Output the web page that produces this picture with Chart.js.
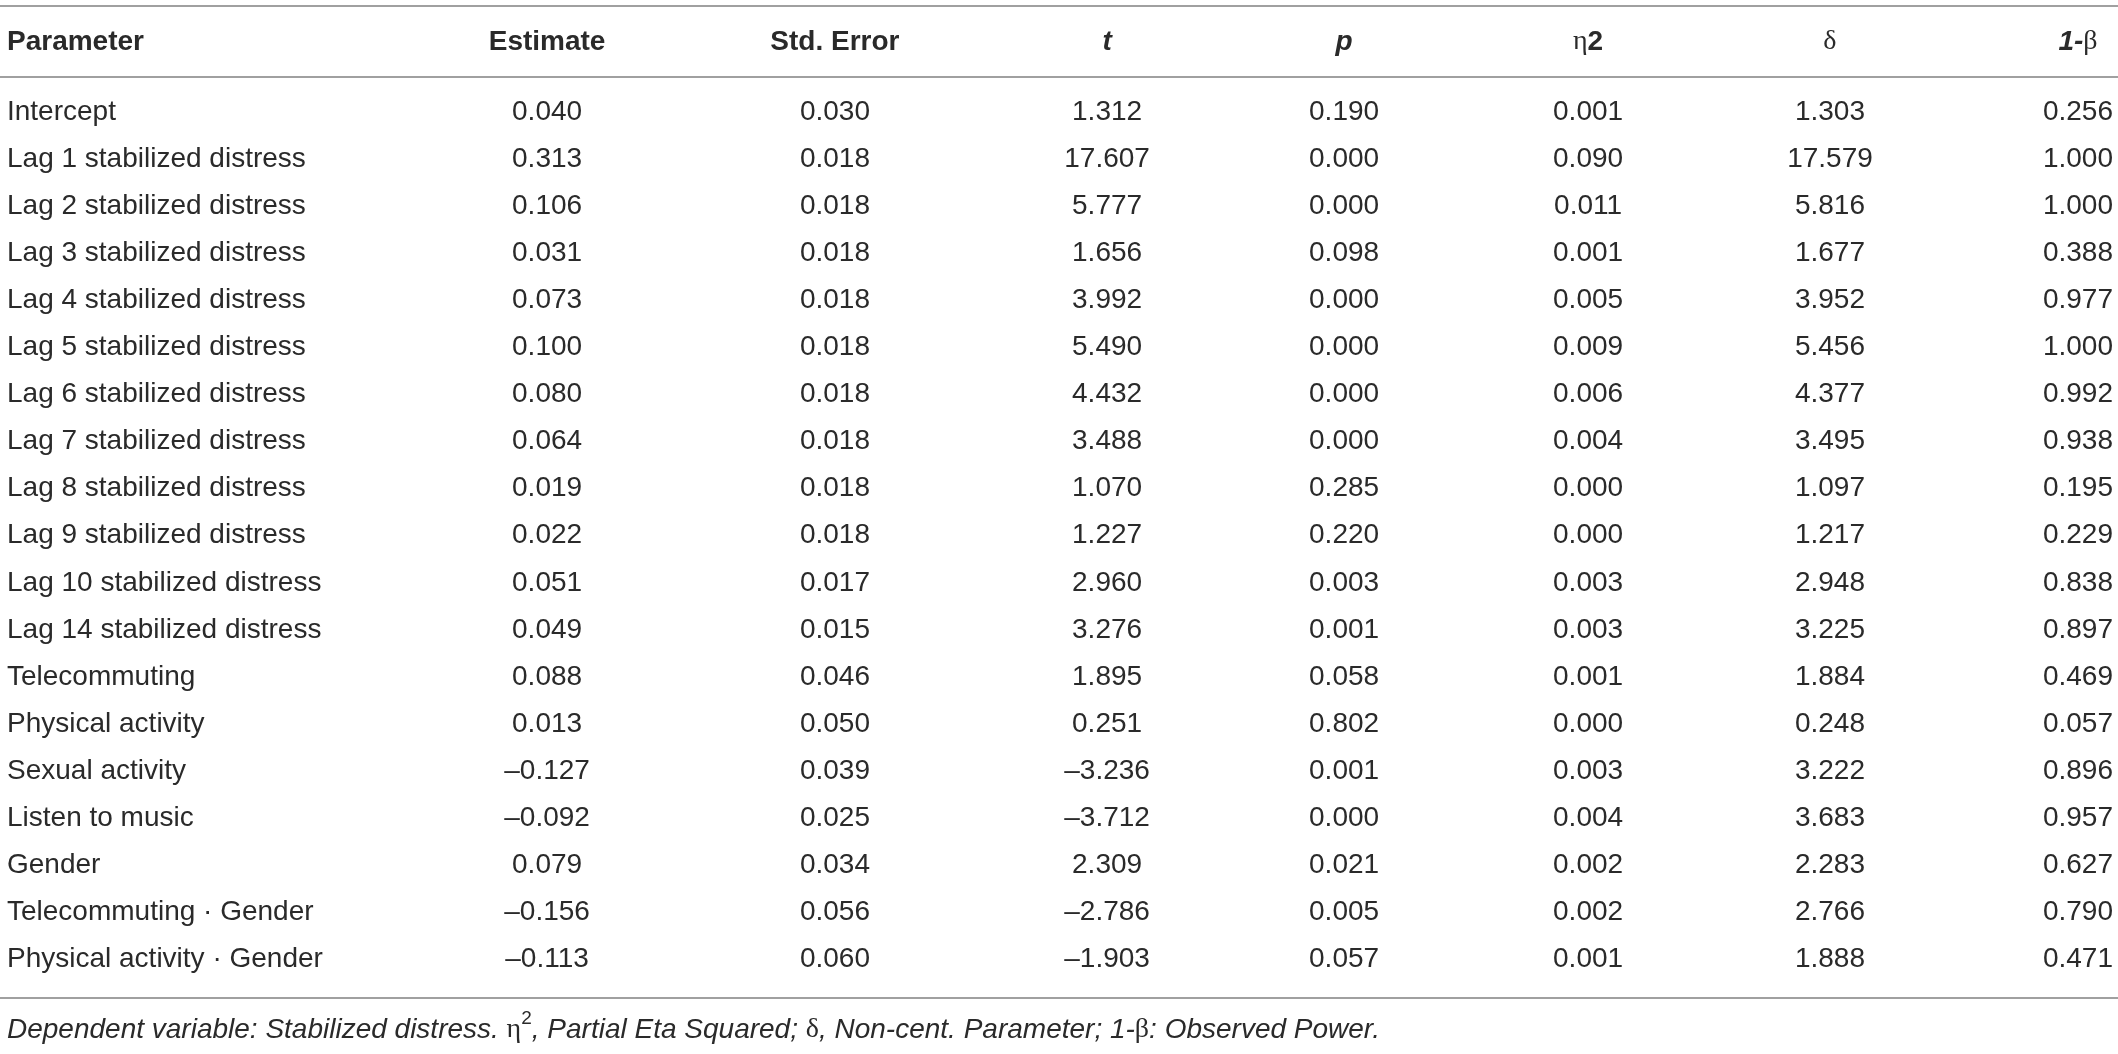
<!DOCTYPE html>
<html>
<head>
<meta charset="utf-8">
<script src="https://cdn.jsdelivr.net/npm/chart.js@4.4.1/dist/chart.umd.min.js"></script>
<style>
  html, body { margin: 0; padding: 0; background: #fff; }
  #wrap { width: 2118px; height: 1054px; position: relative; }
</style>
</head>
<body>
<div id="wrap"><canvas id="table"></canvas></div>
<script>
// table content
const PARAMS = [
  "Intercept",
  "Lag 1 stabilized distress",
  "Lag 2 stabilized distress",
  "Lag 3 stabilized distress",
  "Lag 4 stabilized distress",
  "Lag 5 stabilized distress",
  "Lag 6 stabilized distress",
  "Lag 7 stabilized distress",
  "Lag 8 stabilized distress",
  "Lag 9 stabilized distress",
  "Lag 10 stabilized distress",
  "Lag 14 stabilized distress",
  "Telecommuting",
  "Physical activity",
  "Sexual activity",
  "Listen to music",
  "Gender",
  "Telecommuting \u00b7 Gender",
  "Physical activity \u00b7 Gender"
];
const ESTIMATE = [0.040, 0.313, 0.106, 0.031, 0.073, 0.100, 0.080, 0.064, 0.019, 0.022, 0.051, 0.049, 0.088, 0.013, -0.127, -0.092, 0.079, -0.156, -0.113];
const STD_ERROR = [0.030, 0.018, 0.018, 0.018, 0.018, 0.018, 0.018, 0.018, 0.018, 0.018, 0.017, 0.015, 0.046, 0.050, 0.039, 0.025, 0.034, 0.056, 0.060];
const T_VALUE = [1.312, 17.607, 5.777, 1.656, 3.992, 5.490, 4.432, 3.488, 1.070, 1.227, 2.960, 3.276, 1.895, 0.251, -3.236, -3.712, 2.309, -2.786, -1.903];
const P_VALUE = [0.190, 0.000, 0.000, 0.098, 0.000, 0.000, 0.000, 0.000, 0.285, 0.220, 0.003, 0.001, 0.058, 0.802, 0.001, 0.000, 0.021, 0.005, 0.057];
const ETA2 = [0.001, 0.090, 0.011, 0.001, 0.005, 0.009, 0.006, 0.004, 0.000, 0.000, 0.003, 0.003, 0.001, 0.000, 0.003, 0.004, 0.002, 0.002, 0.001];
const DELTA = [1.303, 17.579, 5.816, 1.677, 3.952, 5.456, 4.377, 3.495, 1.097, 1.217, 2.948, 3.225, 1.884, 0.248, 3.222, 3.683, 2.283, 2.766, 1.888];
const POWER = [0.256, 1.000, 1.000, 0.388, 0.977, 1.000, 0.992, 0.938, 0.195, 0.229, 0.838, 0.897, 0.469, 0.057, 0.896, 0.957, 0.627, 0.790, 0.471];

// header pieces: [text, style]  style: b = bold, bi = bold italic, g = greek regular
const HEADERS = [
  [["Parameter", "b"]],
  [["Estimate", "b"]],
  [["Std. Error", "b"]],
  [["t", "bi"]],
  [["p", "bi"]],
  [["\u03b7", "g"], ["2", "b"]],
  [["\u03b4", "g"]],
  [["1-", "bi"], ["\u03b2", "g"]]
];
const FOOTNOTE = [
  ["Dependent variable: Stabilized distress. ", "i"],
  ["\u03b7", "g"], ["2", "sup"],
  [", Partial Eta Squared; ", "i"],
  ["\u03b4", "g"],
  [", Non-cent. Parameter; 1-", "i"],
  ["\u03b2", "g"],
  [": Observed Power.", "i"]
];

// layout (x in fraction of width, y in row units)
const COL_X = [0.0033, 0.2583, 0.3942, 0.5227, 0.6346, 0.7498, 0.8640, 0.9811];
const HEADER_Y = -1.49, TOP_RULE = -2.25, HEAD_RULE = -0.74, BOTTOM_RULE = 18.81, NOTE_Y = 19.49;
const SANS = "'Liberation Sans', Arial, sans-serif";
const GREEK = "'Liberation Serif', 'DejaVu Serif', serif";
const FONTS = {
  n: "28px " + SANS,
  b: "bold 28px " + SANS,
  bi: "italic bold 28px " + SANS,
  i: "italic 28px " + SANS,
  g: "28px " + GREEK,
  sup: "19px " + SANS
};
const TEXT_COLOR = "#2a2a2a";
const RULE_COLOR = "#a0a0a0";

function fmt(v) {
  return v.toFixed(3).replace("-", "\u2013");
}

const columns = [PARAMS, ESTIMATE, STD_ERROR, T_VALUE, P_VALUE, ETA2, DELTA, POWER];
const datasets = columns.map((col, c) => ({
  label: "col" + c,
  data: col.map((v, r) => ({x: COL_X[c], y: r})),
  cellText: col.map(v => typeof v === "number" ? fmt(v) : v),
  align: c === 0 ? "left" : "center",
  pointRadius: 0,
  pointHoverRadius: 0,
  showLine: false
}));

function drawRuns(ctx, runs, x, y, align) {
  let total = 0;
  runs.forEach(([t, s]) => { ctx.font = FONTS[s]; total += ctx.measureText(t).width; });
  let cx = align === "left" ? x : x - total / 2;
  ctx.textAlign = "left";
  runs.forEach(([t, s]) => {
    ctx.font = FONTS[s];
    ctx.fillText(t, cx, s === "sup" ? y - 11 : y);
    cx += ctx.measureText(t).width;
  });
}

const tablePlugin = {
  id: "tableText",
  afterDatasetsDraw(chart) {
    const ctx = chart.ctx;
    const xs = chart.scales.x, ys = chart.scales.y;
    const area = chart.chartArea;
    ctx.save();
    // rules
    ctx.strokeStyle = RULE_COLOR;
    ctx.lineWidth = 2;
    [TOP_RULE, HEAD_RULE, BOTTOM_RULE].forEach(r => {
      const py = Math.round(ys.getPixelForValue(r));
      ctx.beginPath();
      ctx.moveTo(area.left, py);
      ctx.lineTo(area.right, py);
      ctx.stroke();
    });
    ctx.fillStyle = TEXT_COLOR;
    ctx.textBaseline = "middle";
    // header
    const hy = ys.getPixelForValue(HEADER_Y);
    HEADERS.forEach((runs, c) => {
      drawRuns(ctx, runs, xs.getPixelForValue(COL_X[c]), hy, c === 0 ? "left" : "center");
    });
    // cells
    chart.data.datasets.forEach((ds, i) => {
      const meta = chart.getDatasetMeta(i);
      ctx.font = FONTS.n;
      ctx.textAlign = ds.align;
      meta.data.forEach((pt, j) => {
        ctx.fillText(ds.cellText[j], pt.x, pt.y);
      });
    });
    // footnote
    drawRuns(ctx, FOOTNOTE, xs.getPixelForValue(COL_X[0]), ys.getPixelForValue(NOTE_Y), "left");
    ctx.restore();
  }
};

new Chart(document.getElementById("table"), {
  type: "scatter",
  data: { datasets: datasets },
  plugins: [tablePlugin],
  options: {
    responsive: true,
    maintainAspectRatio: false,
    devicePixelRatio: 1,
    animation: false,
    events: [],
    layout: { padding: { top: 6, bottom: 12, left: 0, right: 0 } },
    plugins: { legend: { display: false }, tooltip: { enabled: false } },
    scales: {
      x: { type: "linear", display: false, min: 0, max: 1 },
      y: { type: "linear", display: false, reverse: true, min: TOP_RULE, max: 19.75 }
    }
  }
});
</script>
</body>
</html>
